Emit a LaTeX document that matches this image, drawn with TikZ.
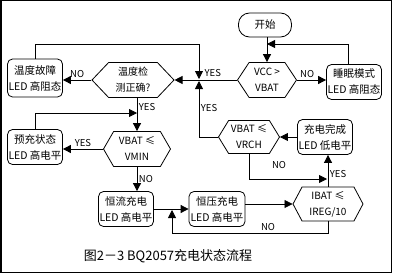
\documentclass[tikz,border=0pt]{standalone}
\usepackage{fontspec}
\setmainfont{Noto Sans CJK SC}
\usetikzlibrary{arrows.meta,shapes.symbols}
\tikzset{
flowbox/.style={draw, line width=0.8pt, rounded corners=5pt, align=center, inner sep=1pt, minimum width=54pt, minimum height=35pt, font=\fontsize{10.5}{16}\selectfont},
flowstart/.style={flowbox, rounded corners=11pt, minimum width=53pt, minimum height=24pt},
flowtest/.style={draw, line width=0.8pt, shape=signal, signal to=east and west, signal pointer angle=118, align=center, inner sep=1pt, minimum height=35pt, font=\fontsize{10}{16}\selectfont},
flowarrow/.style={-{Triangle[length=8pt,width=8pt]}, line width=0.8pt},
flowlabel/.style={font=\fontsize{9.5}{10}\selectfont, inner sep=1.5pt}
}

\begin{document}
\begin{tikzpicture}[x=1pt,y=-1pt]
  \useasboundingbox (0,0) rectangle (393,273);
  \draw[line width=1.5pt] (0.75,0.5) rectangle (391.5,272.25);
  \node[flowstart] (start) at (265,25) {开始};
  \node[flowtest, minimum width=59pt, signal pointer angle=113] (vcc) at (267,80) {VCC >\\VBAT};
  \node[flowbox] (sleep) at (354,82) {睡眠模式\\LED 高阻态};
  \node[flowtest, minimum width=82pt, signal pointer angle=93] (temp) at (133,80) {温度检\\测正确?};
  \node[flowbox, minimum height=38pt] (tfault) at (35,78) {温度故障\\LED 高阻态};
  \node[flowtest, minimum width=67pt, signal pointer angle=120] (vmin) at (137,149) {VBAT ≤\\VMIN};
  \node[flowbox] (pre) at (35,147) {预充状态\\LED 高电平};
  \node[flowbox] (cc) at (126,209) {恒流充电\\LED 高电平};
  \node[flowbox, minimum width=56pt] (cv) at (217,209) {恒压充电\\LED 高电平};
  \node[flowtest, minimum width=70pt, minimum height=34pt, signal pointer angle=124] (ibat) at (328,204) {IBAT ≤\\IREG/10};
  \node[flowbox] (done) at (325,137) {充电完成\\LED 低电平};
  \node[flowtest, minimum width=61pt, minimum height=33pt, signal pointer angle=117] (vrch) at (249,137) {VBAT ≤\\VRCH};
  \node[font=\fontsize{13}{13}\selectfont] (title) at (168,256) {图2－3 BQ2057充电状态流程};
  \coordinate (vccin) at (267,44);
  \coordinate (sleeptop) at (348,44);
  \coordinate (tempin) at (199,80);
  \coordinate (pretap) at (137,113);
  \coordinate (cvtap) at (172,209);
  \coordinate (loopbot) at (172,233);
  \coordinate (ibattap) at (328,179);
  \draw[flowarrow] (vcc.north |- start.south) -- (vcc.north);
  \draw[flowarrow] (vcc.east) -- (vcc.east -| sleep.west) node[flowlabel, pos=0.35, above] (nosleep) {NO};
  \draw[flowarrow] (sleeptop |- sleep.north) -- (sleeptop) -- (vccin);
  \draw[flowarrow] (vcc.west) -- (temp.east);
  \node[flowlabel, anchor=west] (yesvcc) at (203,73) {YES};
  \draw[flowarrow, shorten >=1pt] (tfault.north) |- (tempin |- vccin) -- (tempin);
  \draw[flowarrow, shorten >=1pt] (vrch.west) -| (tempin) node[flowlabel, pos=0.75, right] (yesvrch) {YES};
  \draw[flowarrow] (temp.west) -- (temp.west -| tfault.east) node[flowlabel, midway, above] (notemp) {NO};
  \draw[flowarrow] (temp.south -| vmin.north) -- (vmin.north) node[flowlabel, pos=0.27, right] (yestemp) {YES};
  \draw[flowarrow] (pre.north) |- (pretap);
  \draw[flowarrow] (vmin.west) -- (vmin.west -| pre.east) node[flowlabel, midway, above] (yesvmin) {YES};
  \draw[flowarrow] (vmin.south) -- (vmin.south |- cc.north) node[flowlabel, midway, right] (novmin) {NO};
  \draw[flowarrow] (cc.east) -- (cv.west);
  \draw[flowarrow] (cv.east |- ibat.west) -- (ibat.west);
  \draw[flowarrow, shorten >=1pt] (ibat.south) |- (loopbot) -- (cvtap);
  \node[flowlabel] (noibat) at (268,227) {NO};
  \draw[flowarrow] (ibat.north) -- (ibat.north |- done.south) node[flowlabel, pos=0.4, right] (yesibat) {YES};
  \draw[flowarrow, shorten >=1pt] (vrch.south) |- (ibattap);
  \node[flowlabel] (novrch) at (279,165) {NO};
  \draw[flowarrow] (done.west) -- (vrch.east);
\end{tikzpicture}
\end{document}
